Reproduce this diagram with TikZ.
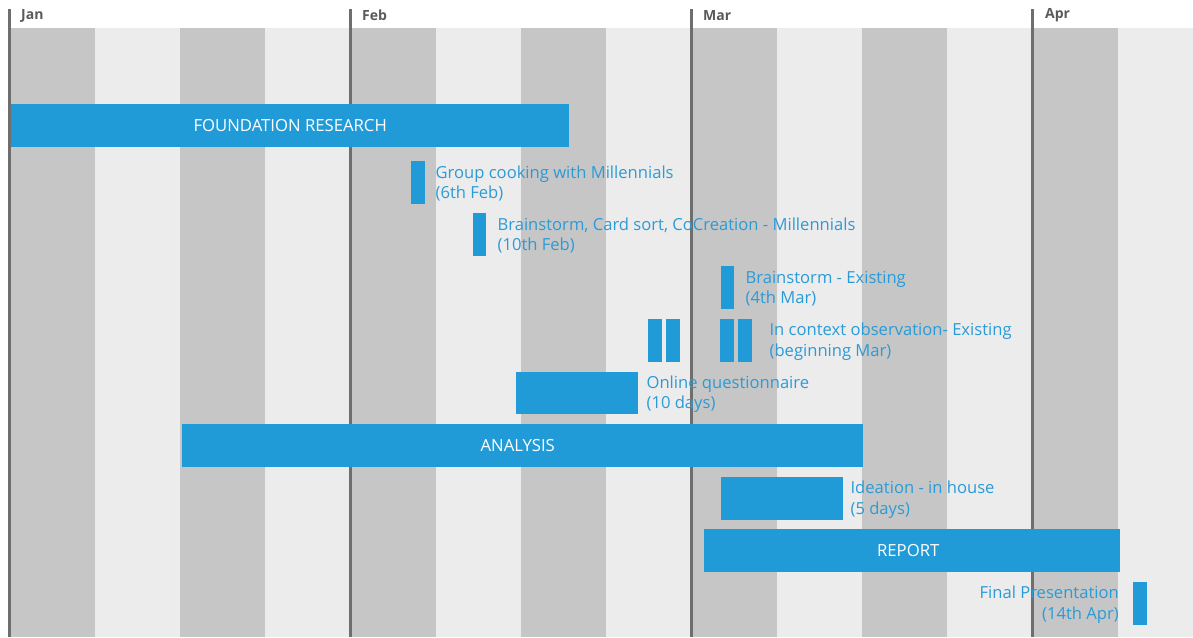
\documentclass[tikz,border=0pt]{standalone}
\usepackage{fontspec}
\setmainfont{Open Sans}
\definecolor{stripeD}{HTML}{C6C6C6}
\definecolor{stripeL}{HTML}{ECECEC}
\definecolor{mline}{HTML}{6E6E6E}
\definecolor{barC}{HTML}{219BD7}
\definecolor{txtC}{HTML}{2A9BD7}
\definecolor{monC}{HTML}{5A5A5A}
\tikzset{
  bar/.style={fill=barC, draw=none, inner sep=0pt, anchor=north west},
  bartext/.style={text=white, font=\fontsize{16.7}{19}\selectfont, inner sep=0pt},
  lbl/.style={text=txtC, font=\fontsize{16.6}{20.5}\selectfont, inner sep=0pt, align=left, anchor=west},
  lblr/.style={text=txtC, font=\fontsize{16.6}{20.5}\selectfont, inner sep=0pt, align=right, anchor=east},
  month/.style={text=monC, font=\fontsize{14}{16}\selectfont\bfseries, inner sep=0pt, anchor=west},
  mline/.style={draw=mline, line width=3pt}
}
\begin{document}
\begin{tikzpicture}[x=1pt,y=-1pt]
\useasboundingbox (0,0) rectangle (1193,637);
\fill[white] (0,0) rectangle (1193,637);
% stripes
\foreach \i in {0,...,13}{
  \pgfmathsetmacro{\xa}{9.5+\i*85.25}
  \pgfmathsetmacro{\xb}{min(9.5+(\i+1)*85.25,1193)}
  \pgfmathparse{mod(\i,2)==0 ? "stripeD" : "stripeL"}
  \fill[\pgfmathresult] (\xa,28) rectangle (\xb,637);
}
% month lines
\coordinate (janT) at (9.5,9);   \coordinate (janB) at (9.5,637);
\coordinate (febT) at (350.5,9); \coordinate (febB) at (350.5,637);
\coordinate (marT) at (691.5,9); \coordinate (marB) at (691.5,637);
\coordinate (aprT) at (1032.5,9);\coordinate (aprB) at (1032.5,637);
\draw[mline] (janT) -- (janB);
\draw[mline] (febT) -- (febB);
\draw[mline] (marT) -- (marB);
\draw[mline] (aprT) -- (aprB);
\node[month] (jan) at (21,15.5) {Jan};
\node[month] (feb) at (362,15.5) {Feb};
\node[month] (mar) at (703,15.5) {Mar};
\node[month] (apr) at (1045,15.5) {Apr};
% bars
\node[bar, minimum width=558pt, minimum height=43pt] (found) at (11,104) {};
\node[bartext] (foundT) at (found.center) {FOUNDATION RESEARCH};
\node[bar, minimum width=14pt, minimum height=43pt] (cook) at (411,161) {};
\node[lbl] (cookT) at ([xshift=10pt,yshift=-1pt]cook.east) {Group cooking with Millennials\\(6th Feb)};
\node[bar, minimum width=13pt, minimum height=43pt] (brain) at (473,213) {};
\node[lbl] (brainT) at ([xshift=11pt,yshift=-1pt]brain.east) {Brainstorm, Card sort, CoCreation - Millennials\\(10th Feb)};
\node[bar, minimum width=13pt, minimum height=43pt] (brainE) at (721,266) {};
\node[lbl] (brainET) at ([xshift=11pt,yshift=-1pt]brainE.east) {Brainstorm - Existing\\(4th Mar)};
\node[bar, minimum width=14pt, minimum height=43pt] (ctxA) at (648,319) {};
\node[bar, minimum width=14pt, minimum height=43pt] (ctxB) at (666,319) {};
\node[bar, minimum width=14pt, minimum height=43pt] (ctxC) at (720,319) {};
\node[bar, minimum width=14pt, minimum height=43pt] (ctxD) at (738,319) {};
\node[lbl] (ctxT) at ([xshift=17pt,yshift=-1pt]ctxD.east) {In context observation- Existing\\(beginning Mar)};
\node[bar, minimum width=122pt, minimum height=42pt] (online) at (516,372) {};
\node[lbl] (onlineT) at ([xshift=8pt,yshift=-1pt]online.east) {Online questionnaire\\(10 days)};
\node[bar, minimum width=681pt, minimum height=43pt] (anal) at (182,424) {};
\node[bartext] (analT) at ([xshift=-5pt]anal.center) {ANALYSIS};
\node[bar, minimum width=122pt, minimum height=43pt] (idea) at (721,477) {};
\node[lbl] (ideaT) at ([xshift=7pt,yshift=-1pt]idea.east) {Ideation - in house\\(5 days)};
\node[bar, minimum width=416pt, minimum height=43pt] (report) at (704,529) {};
\node[bartext] (reportT) at ([xshift=-4pt]report.center) {REPORT};
\node[bar, minimum width=14pt, minimum height=43pt] (final) at (1133,582) {};
\node[lblr] (finalT) at ([xshift=-14pt,yshift=-1pt]final.west) {Final Presentation\\(14th Apr)};
\end{tikzpicture}
\end{document}
